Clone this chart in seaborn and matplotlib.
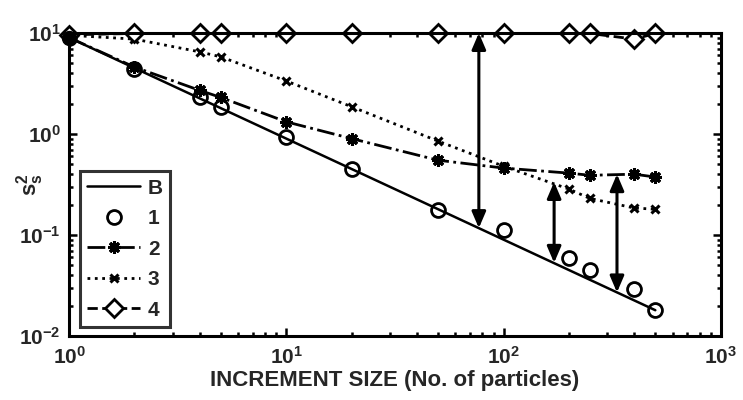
import numpy as np
import pandas as pd
import matplotlib
matplotlib.use('Agg')
import matplotlib.pyplot as plt
import seaborn as sns

sns.set_style("ticks")
plt.rcParams['font.family'] = ['Liberation Sans', 'DejaVu Sans']
plt.rcParams['font.weight'] = 'bold'
plt.rcParams['mathtext.default'] = 'regular'

# increment sizes (No. of particles)
n = [1, 2, 4, 5, 10, 20, 50, 100, 200, 250, 400, 500]

b_vals = [9.0, 4.5, 2.25, 1.8, 0.9, 0.45, 0.18, 0.09, 0.045, 0.036, 0.0225, 0.018]
s1_vals = [9.0, 4.4, 2.3, 1.85, 0.93, 0.45, 0.177, 0.112, 0.059, 0.045, 0.029, 0.018]
s2_vals = [9.0, 4.6, 2.7, 2.3, 1.32, 0.90, 0.55, 0.46, 0.41, 0.39, 0.40, 0.375]
s3_vals = [9.5, 8.7, 6.5, 5.8, 3.35, 1.86, 0.85, 0.48, 0.285, 0.23, 0.185, 0.18]
s4_vals = [9.6, 9.9, 9.9, 9.9, 9.9, 9.9, 9.9, 9.9, 9.9, 9.9, 8.7, 9.9]

# double-headed arrows
arrow_x = [77, 171, 333]
arrow_top = [10.0, 0.335, 0.40]
arrow_bottom = [0.117, 0.053, 0.027]

df = pd.DataFrame({'n': n, 'B': b_vals, '1': s1_vals, '2': s2_vals,
                   '3': s3_vals, '4': s4_vals})

fig = plt.figure(figsize=(7.43, 4.0), dpi=100)
ax = fig.add_axes([0.093, 0.16, 0.877, 0.7575])

sns.lineplot(data=df, x='n', y='B', ax=ax, color='black', lw=1.8, label='B')
sns.lineplot(data=df, x='n', y='1', ax=ax, color='black', linestyle='none',
             marker='o', markersize=10, markerfacecolor='none',
             markeredgecolor='black', markeredgewidth=2, label='1')
sns.lineplot(data=df, x='n', y='2', ax=ax, color='black', linestyle='-.',
             lw=2, marker=(8, 2, 0), markersize=9, markeredgewidth=2.2,
             markeredgecolor='black', label='2')
sns.lineplot(data=df, x='n', y='3', ax=ax, color='black', linestyle=':',
             lw=2, marker='x', markersize=6, markeredgewidth=2.2,
             markeredgecolor='black', label='3')
sns.lineplot(data=df, x='n', y='4', ax=ax, color='black', linestyle='--',
             lw=2, marker='D', markersize=9.5, markerfacecolor='white',
             markeredgecolor='black', markeredgewidth=2, clip_on=False,
             label='4')

# filled start point
ax.plot(n[0], b_vals[0], 'o', color='black', markersize=10, clip_on=False)

for xa, yt, yb in zip(arrow_x, arrow_top, arrow_bottom):
    ax.annotate('', xy=(xa, yb), xytext=(xa, yt),
                arrowprops=dict(arrowstyle='<|-|>,head_length=0.7,head_width=0.3',
                                color='black', lw=2.2,
                                mutation_scale=14, shrinkA=0, shrinkB=0))

ax.set_xscale('log')
ax.set_yscale('log')
ax.set_xlim(1, 1000)
ax.set_ylim(0.01, 10)
ax.set_xlabel('INCREMENT SIZE (No. of particles)', fontsize=16,
              fontweight='bold', labelpad=2)
ax.set_ylabel('$s_s^2$', fontsize=16, fontweight='bold')
ax.yaxis.set_label_coords(-0.036, 0.5)

for sp in ax.spines.values():
    sp.set_linewidth(2.2)
    sp.set_color('black')
ax.tick_params(which='both', direction='in', top=True, right=True,
               labelsize=15, width=1.8, color='black')
ax.tick_params(axis='x', pad=7)
ax.tick_params(axis='y', pad=6)
ax.tick_params(which='major', length=6)
ax.tick_params(which='minor', length=3)

leg = ax.legend(loc='lower left', bbox_to_anchor=(0.017, 0.03),
                borderaxespad=0, fontsize=15, frameon=True, fancybox=False,
                handlelength=2.5, handletextpad=0.4, labelspacing=0.55,
                borderpad=0.35, edgecolor='black')
leg.get_frame().set_linewidth(2.2)
for t in leg.get_texts():
    t.set_fontweight('bold')

fig.savefig('out.png', dpi=100)
